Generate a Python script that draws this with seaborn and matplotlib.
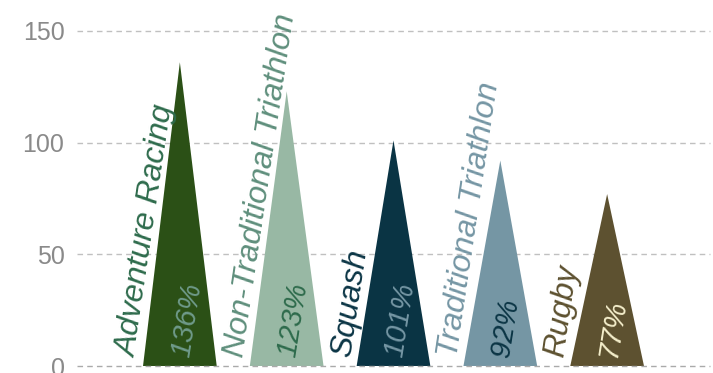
import matplotlib
matplotlib.use("Agg")
import matplotlib.pyplot as plt
import seaborn as sns
import pandas as pd
from matplotlib.patches import Polygon

categories = ["Adventure Racing", "Non-Traditional Triathlon", "Squash",
              "Traditional Triathlon", "Rugby"]
values = [136, 123, 101, 92, 77]
pct_labels = ["136%", "123%", "101%", "92%", "77%"]
fill_colors = ["#2b5016", "#98b8a4", "#0a3444", "#7596a4", "#5d5130"]
label_colors = ["#2e6b4c", "#5f8f7c", "#0b3545", "#7596a4", "#5d5130"]
pct_colors = ["#6f9a8a", "#2e6b4c", "#7596a4", "#0b3545", "#f4eecb"]
y_ticks = [0, 50, 100, 150]

sns.set_theme(style="white")
plt.rcParams["font.family"] = ["Liberation Sans", "DejaVu Sans"]

df = pd.DataFrame({"cat": categories, "val": values})

fig = plt.figure(figsize=(7.13, 3.73), dpi=100)
ax = fig.add_axes([77 / 713, 7 / 373, 633 / 713, 335 / 373])

sns.barplot(data=df, x="cat", y="val", hue="cat", palette=fill_colors,
            width=0.69, legend=False, ax=ax, saturation=1)

# replace each bar with a triangle using its own geometry
bars = list(ax.patches)
for bar, col in zip(bars, fill_colors):
    x0 = bar.get_x()
    w = bar.get_width()
    h = bar.get_height()
    tri = Polygon([(x0, 0), (x0 + w / 2, h), (x0 + w, 0)], closed=True,
                  facecolor=col, edgecolor="none", zorder=2)
    ax.add_patch(tri)
    bar.remove()

ax.set_xlim(-0.963, 4.963)
ax.set_ylim(0, 150)
ax.set_yticks(y_ticks)
ax.set_yticklabels([str(t) for t in y_ticks], fontsize=18, color="#8a8a8a")
ax.tick_params(axis="y", length=0, pad=9)
ax.set_xticks([])
ax.set_xlabel("")
ax.set_ylabel("")
for s in ax.spines.values():
    s.set_visible(False)

for t in y_ticks:
    ax.axhline(t, color="#aaaaaa" if t == 0 else "#c0c0c0", lw=1.0,
               ls=(0, (4, 3)), zorder=3 if t == 0 else 1, clip_on=False)

for i, (cat, pct) in enumerate(zip(categories, pct_labels)):
    ax.text(i - 0.345, 3, cat, rotation=81.5, rotation_mode="anchor",
            ha="left", va="bottom", fontsize=23, style="italic",
            color=label_colors[i], zorder=4)
    ax.text(i + 0.01, 4, pct, rotation=81, rotation_mode="anchor",
            ha="left", va="center", fontsize=21, style="italic",
            color=pct_colors[i], zorder=4)

fig.savefig("out.png", dpi=100)
